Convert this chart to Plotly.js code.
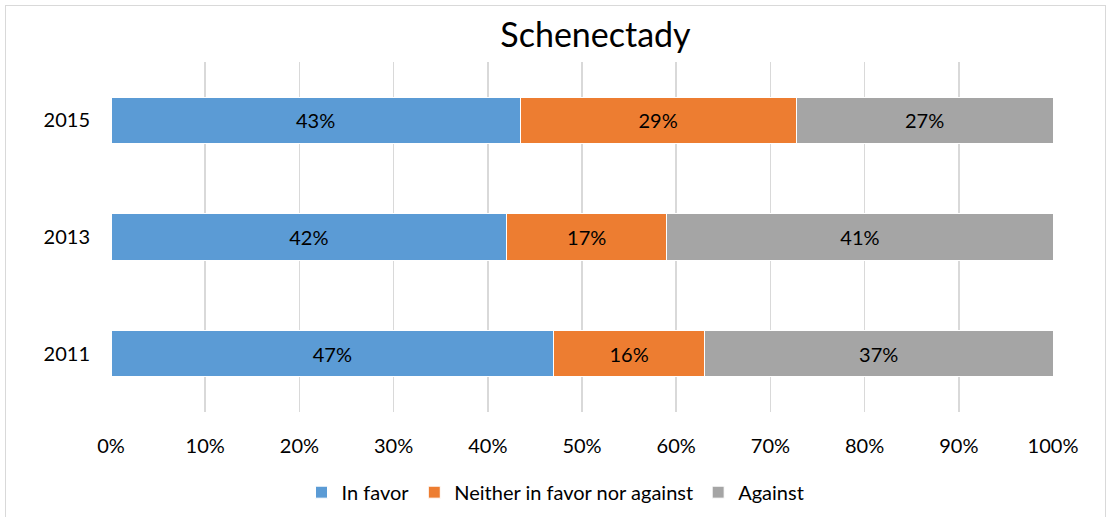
<!DOCTYPE html>
<html>
<head>
<meta charset="utf-8">
<script src="https://cdn.plot.ly/plotly-3.0.1.min.js"></script>
<style>
html,body{margin:0;padding:0;background:#fff;}
#chart{width:1111px;height:517px;}
#frame{position:absolute;left:5px;top:5px;width:1099px;height:520px;border:1.5px solid #d9d9d9;pointer-events:none;}
</style>
</head>
<body>
<div id="chart"></div>
<div id="frame"></div>
<script>
const years = ['2011', '2013', '2015'];
const inFavor = [47, 42, 43];
const neither = [16, 17, 29];
const against = [37, 41, 27];
const seriesNames = ['In favor', 'Neither in favor nor against', 'Against'];
const seriesColors = ['#5B9BD5', '#ED7D31', '#A5A5A5'];
const xTickVals = [0, 10, 20, 30, 40, 50, 60, 70, 80, 90, 100];
const xTickText = ['0%', '10%', '20%', '30%', '40%', '50%', '60%', '70%', '80%', '90%', '100%'];

const font = 'Lato, "Open Sans", sans-serif';
const seriesValues = [inFavor, neither, against];
const traces = seriesValues.map((vals, i) => ({
  type: 'bar',
  orientation: 'h',
  y: years,
  x: vals,
  name: seriesNames[i],
  text: vals.map(v => v + '%'),
  textposition: 'inside',
  insidetextanchor: 'middle',
  textfont: {family: font, size: 20, color: '#000'},
  marker: {color: seriesColors[i], line: {color: '#ffffff', width: 1}},
  hoverinfo: 'skip'
}));

const layout = {
  width: 1111, height: 517,
  margin: {l: 111, r: 58, t: 62, b: 105, autoexpand: false},
  paper_bgcolor: '#fff', plot_bgcolor: '#fff',
  barmode: 'stack',
  barnorm: 'percent',
  bargap: 0.605,
  title: {text: 'Schenectady', font: {family: font, size: 34, color: '#000'}, x: 0.536, xanchor: 'center', y: 0.932, yanchor: 'middle'},
  xaxis: {
    range: [0, 100], tickvals: xTickVals, ticktext: xTickText,
    showgrid: true, gridcolor: '#d9d9d9', gridwidth: 1.5,
    zeroline: false, showline: false, ticks: '',
    tickfont: {family: font, size: 20, color: '#000'},
    ticklabelstandoff: 20, fixedrange: true
  },
  yaxis: {
    type: 'category', categoryorder: 'array', categoryarray: years,
    range: [-0.5, 2.5], showgrid: false, zeroline: false, showline: false, ticks: '',
    tickfont: {family: font, size: 20, color: '#000'},
    ticklabelstandoff: 20, fixedrange: true
  },
  showlegend: true,
  legend: {
    orientation: 'h', x: 0.5, xanchor: 'center', xref: 'container',
    y: 0.048, yanchor: 'middle', yref: 'container',
    font: {family: font, size: 20, color: '#000'},
    traceorder: 'normal', itemwidth: 30
  }
};

Plotly.newPlot('chart', traces, layout, {staticPlot: true, displayModeBar: false});
</script>
</body>
</html>
